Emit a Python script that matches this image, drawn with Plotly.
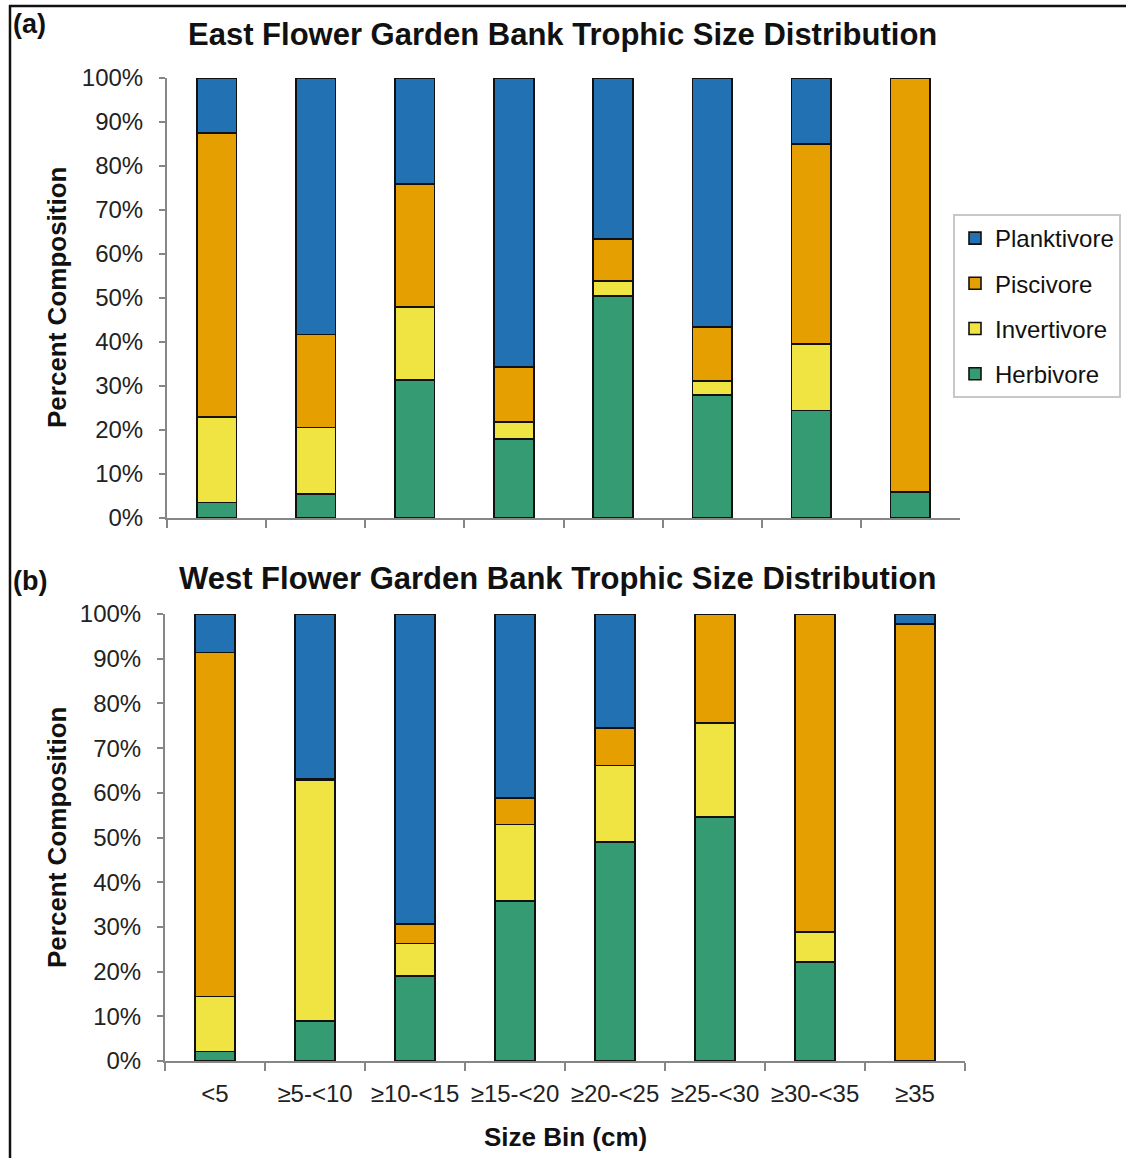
import plotly.graph_objects as go

# Size bins shared by both banks
size_bins = ["<5", "≥5-<10", "≥10-<15", "≥15-<20", "≥20-<25", "≥25-<30", "≥30-<35", "≥35"]

# East Flower Garden Bank: percent composition per size bin
east_herbivore = [3.5, 5.5, 31.4, 18.0, 50.5, 28.0, 24.4, 5.9]
east_invertivore = [19.5, 15.1, 16.6, 3.8, 3.3, 3.1, 15.1, 0.0]
east_piscivore = [64.5, 21.1, 27.9, 12.5, 9.6, 12.3, 45.5, 94.1]
east_planktivore = [12.5, 58.3, 24.1, 65.7, 36.6, 56.6, 15.0, 0.0]

# West Flower Garden Bank: percent composition per size bin
west_herbivore = [2.1, 9.0, 19.0, 35.8, 49.0, 54.6, 22.1, 0.0]
west_invertivore = [12.3, 53.8, 7.3, 17.1, 17.1, 21.0, 6.7, 0.0]
west_piscivore = [77.0, 0.3, 4.3, 5.9, 8.4, 24.4, 71.2, 97.8]
west_planktivore = [8.6, 36.9, 69.4, 41.2, 25.5, 0.0, 0.0, 2.2]

# Y-axis ticks
pct_ticks = list(range(0, 101, 10))
pct_labels = [f"{v}%" for v in pct_ticks]

groups = ["Herbivore", "Invertivore", "Piscivore", "Planktivore"]
legend_rank = {"Planktivore": 1, "Piscivore": 2, "Invertivore": 3, "Herbivore": 4}
colors = {
    "Planktivore": "#2271B3",
    "Piscivore": "#E69F00",
    "Invertivore": "#F0E442",
    "Herbivore": "#359B73",
}

east = dict(zip(groups, [east_herbivore, east_invertivore, east_piscivore, east_planktivore]))
west = dict(zip(groups, [west_herbivore, west_invertivore, west_piscivore, west_planktivore]))

W, H = 1126, 1158
FONT = "Liberation Sans, Arial, sans-serif"
AXIS_GRAY = "#868686"
TEXT = "#111111"


def px(x):
    return x / W


def py(y):
    return 1 - y / H


fig = go.Figure()

for name in groups:
    fig.add_trace(go.Bar(
        x=size_bins, y=east[name], name=name, legendgroup=name, legendrank=legend_rank[name],
        marker=dict(color=colors[name], line=dict(color="#111111", width=1.6)),
        xaxis="x", yaxis="y", showlegend=True,
    ))
for name in groups:
    fig.add_trace(go.Bar(
        x=size_bins, y=west[name], name=name, legendgroup=name, legendrank=legend_rank[name],
        marker=dict(color=colors[name], line=dict(color="#111111", width=1.6)),
        xaxis="x2", yaxis="y2", showlegend=False,
    ))

yaxis_common = dict(
    range=[0, 100], tickvals=pct_ticks, ticktext=pct_labels,
    showgrid=False, zeroline=False, showline=True, linecolor=AXIS_GRAY, linewidth=2,
    ticks="outside", ticklen=6, tickwidth=2, tickcolor=AXIS_GRAY,
    tickfont=dict(family=FONT, size=24, color="#222222"),
    ticklabelstandoff=11, automargin=False,
)
xaxis_common = dict(
    type="category", tickson="boundaries", showgrid=False, zeroline=False,
    showline=True, linecolor=AXIS_GRAY, linewidth=2,
    ticks="outside", ticklen=8, tickwidth=2, tickcolor=AXIS_GRAY, automargin=False,
)

fig.update_layout(
    width=W, height=H,
    margin=dict(l=0, r=0, t=0, b=0),
    paper_bgcolor="white", plot_bgcolor="white",
    barmode="stack", bargap=0.6,
    font=dict(family=FONT, color=TEXT),
    xaxis=dict(domain=[px(167), px(960)], anchor="y", showticklabels=False, **xaxis_common),
    yaxis=dict(domain=[py(518), py(78)], anchor="x", **yaxis_common),
    xaxis2=dict(domain=[px(165), px(965)], anchor="y2", tickangle=0,
                tickfont=dict(family=FONT, size=24, color="#222222"), ticklabelstandoff=10,
                **xaxis_common),
    yaxis2=dict(domain=[py(1061), py(614)], anchor="x2", **yaxis_common),
    legend=dict(
        x=px(953), y=py(214), xanchor="left", yanchor="top",
        traceorder="grouped", tracegroupgap=11,
        bordercolor="#C8C8C8", borderwidth=2, bgcolor="white",
        font=dict(family=FONT, size=24, color=TEXT),
        itemwidth=30,
    ),
    showlegend=True,
)

# Panel titles and panel letters
fig.add_annotation(text="<b>East Flower Garden Bank Trophic Size Distribution</b>",
                   x=px(562), y=py(35), xref="paper", yref="paper", showarrow=False,
                   xanchor="center", yanchor="middle",
                   font=dict(family=FONT, size=31, color=TEXT))
fig.add_annotation(text="<b>West Flower Garden Bank Trophic Size Distribution</b>",
                   x=px(557), y=py(578), xref="paper", yref="paper", showarrow=False,
                   xanchor="center", yanchor="middle",
                   font=dict(family=FONT, size=31, color=TEXT))
fig.add_annotation(text="<b>(a)</b>", x=px(11), y=py(24), xref="paper", yref="paper",
                   xanchor="left", yanchor="middle", showarrow=False,
                   font=dict(family=FONT, size=27, color=TEXT))
fig.add_annotation(text="<b>(b)</b>", x=px(11), y=py(581), xref="paper", yref="paper",
                   xanchor="left", yanchor="middle", showarrow=False,
                   font=dict(family=FONT, size=27, color=TEXT))

# Axis titles
for yc in (298, 838):
    fig.add_annotation(text="<b>Percent Composition</b>", x=px(57), y=py(yc),
                       xref="paper", yref="paper", showarrow=False, textangle=-90,
                       xanchor="center", yanchor="middle",
                       font=dict(family=FONT, size=26, color=TEXT))
fig.add_annotation(text="<b>Size Bin (cm)</b>", x=px(565), y=py(1137),
                   xref="paper", yref="paper", showarrow=False,
                   xanchor="center", yanchor="middle",
                   font=dict(family=FONT, size=26, color=TEXT))

# Frame lines along the top and left edges
fig.add_shape(type="line", xref="paper", yref="paper", x0=px(9), x1=1.0, y0=py(6), y1=py(6),
              line=dict(color="#111111", width=2.5))
fig.add_shape(type="line", xref="paper", yref="paper", x0=px(10), x1=px(10), y0=py(5), y1=0,
              line=dict(color="#111111", width=2.5))

fig.write_html("out.html")
